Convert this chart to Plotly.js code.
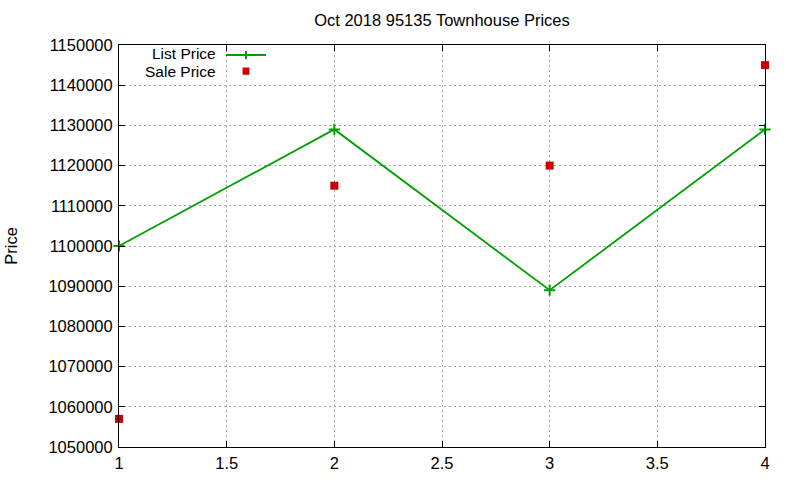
<!DOCTYPE html>
<html>
<head>
<meta charset="utf-8">
<script src="https://cdn.plot.ly/plotly-3.0.1.min.js"></script>
<style>
  body { margin: 0; background: #fff; }
  #chart { width: 800px; height: 480px; }
</style>
</head>
<body>
<div id="chart"></div>
<script>
// values
var points = [1, 2, 3, 4];
var listPrice = [1100000, 1129000, 1089000, 1129000];
var salePrice = [1057000, 1115000, 1120000, 1145000];

var green = "#00a000";
var red = "#cc0000";

var data = [
  {
    x: points,
    y: listPrice,
    name: "List Price",
    type: "scatter",
    mode: "lines+markers",
    line: { color: green, width: 1.8 },
    marker: { symbol: "cross-thin", size: 8, color: green, line: { color: green, width: 2 } },
    cliponaxis: false
  },
  {
    x: points,
    y: salePrice,
    name: "Sale Price",
    type: "scatter",
    mode: "markers",
    marker: { symbol: "square", size: 8, color: red },
    cliponaxis: false
  }
];

var axisStyle = {
  showline: true,
  linecolor: "#000",
  linewidth: 1,
  mirror: "ticks",
  ticks: "inside",
  ticklen: 6,
  tickcolor: "#000",
  showgrid: true,
  gridcolor: "#a8a8a8",
  griddash: "2px,3px",
  gridwidth: 1,
  zeroline: false
};

// hand-made gnuplot style key: text right of the sample is not possible in plotly legend
var keyText = { xref: "paper", yref: "paper", xanchor: "right", yanchor: "middle", showarrow: false,
                borderpad: 0, font: { size: 15.5, color: "#000" } };

var layout = {
  width: 800,
  height: 480,
  margin: { l: 119, r: 35, t: 45, b: 33 },
  paper_bgcolor: "#fff",
  plot_bgcolor: "#fff",
  font: { family: "Liberation Sans, Arial, sans-serif", size: 16.5, color: "#000" },
  showlegend: false,
  title: { text: "Oct 2018 95135 Townhouse Prices", xref: "paper", x: 0.5, xanchor: "center",
           y: 0.958, yanchor: "middle", font: { size: 16.5 } },
  xaxis: Object.assign({}, axisStyle, {
    range: [1, 4],
    dtick: 0.5,
    tick0: 1,
    ticklabelstandoff: 1
  }),
  yaxis: Object.assign({}, axisStyle, {
    range: [1050000, 1150000],
    dtick: 10000,
    tickformat: "d",
    ticklabelstandoff: 2,
    title: { text: "Price", standoff: 26, font: { size: 16.5 } }
  }),
  annotations: [
    Object.assign({}, keyText, { x: 0.151, y: 0.978, text: "List Price" }),
    Object.assign({}, keyText, { x: 0.151, y: 0.933, text: "Sale Price" })
  ],
  shapes: [
    { type: "line", xref: "paper", yref: "paper", x0: 0.1656, x1: 0.2276, y0: 0.975, y1: 0.975,
      line: { color: green, width: 2 } },
    { type: "line", xref: "paper", yref: "paper", x0: 0.1966, x1: 0.1966, y0: 0.965, y1: 0.985,
      line: { color: green, width: 2 } },
    { type: "rect", xref: "paper", yref: "paper", x0: 0.1913, x1: 0.2019, y0: 0.926, y1: 0.944,
      fillcolor: red, line: { width: 0 } }
  ]
};

Plotly.newPlot("chart", data, layout, { displayModeBar: false, staticPlot: true });
</script>
</body>
</html>
